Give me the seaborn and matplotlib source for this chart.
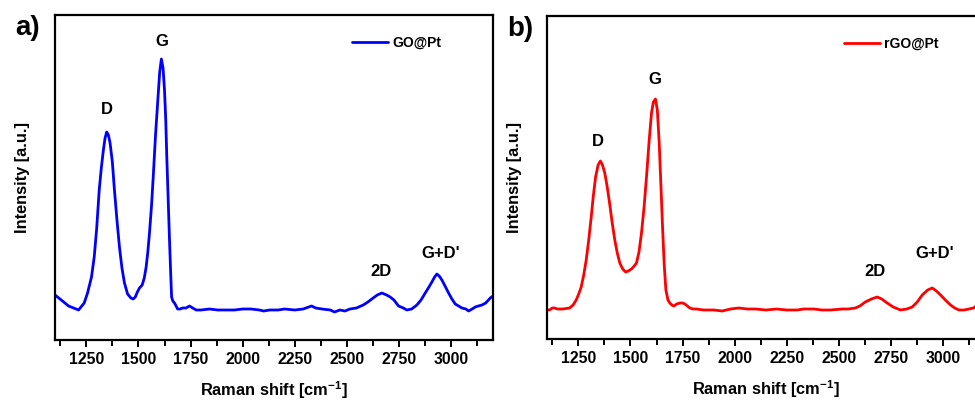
import numpy as np
import pandas as pd
import seaborn as sns
import matplotlib
import matplotlib.pyplot as plt
from matplotlib.ticker import MultipleLocator

matplotlib.use('Agg')

# Raman shift (cm^-1) and intensity (a.u.)
go_shift = [1100, 1130, 1165, 1213, 1240, 1256, 1275, 1288, 1300, 1312, 1322, 1332, 1340, 1348,
            1356, 1364, 1375, 1385, 1397, 1409, 1421, 1433, 1448, 1464, 1475, 1485, 1495, 1505,
            1518, 1528, 1537, 1545, 1553, 1563, 1572, 1582, 1593, 1602, 1610, 1618, 1625, 1631,
            1636, 1642, 1649, 1655, 1659, 1665, 1673, 1688, 1700, 1712, 1728, 1745, 1760, 1777,
            1800, 1841, 1880, 1920, 1960, 2000, 2040, 2080, 2100, 2130, 2170, 2200, 2250, 2290,
            2330, 2350, 2380, 2420, 2440, 2466, 2490, 2514, 2545, 2578, 2600, 2619, 2645, 2667,
            2690, 2707, 2725, 2747, 2770, 2787, 2810, 2835, 2855, 2875, 2890, 2907, 2920, 2931,
            2942, 2955, 2970, 2987, 3003, 3019, 3035, 3051, 3070, 3083, 3100, 3115, 3130, 3147,
            3165, 3187, 3200]
go_int = [45, 40, 34, 30, 37, 47, 63, 83, 112, 150, 172, 190, 202, 208,
          205, 197, 178, 150, 120, 93, 72, 57, 46, 42, 41, 43, 48, 52,
          55, 62, 73, 88, 107, 135, 167, 205, 240, 268, 281, 272, 250, 220,
          183, 145, 100, 65, 43, 39, 37, 31, 31, 32, 32, 34, 32, 30,
          30, 31, 30, 30, 30, 31, 31, 30, 29, 30, 30, 31, 30, 31,
          34, 32, 31, 30, 28, 30, 29, 31, 32, 35, 38, 41, 45, 47,
          45, 43, 40, 34, 32, 30, 31, 35, 40, 47, 52, 58, 63, 66,
          64, 60, 54, 47, 41, 36, 34, 32, 31, 29, 31, 33, 34, 35,
          37, 42, 44]

rgo_shift = [1100, 1112, 1125, 1136, 1150, 1175, 1208, 1225, 1240, 1252, 1264, 1276, 1288, 1300,
             1312, 1322, 1333, 1345, 1356, 1366, 1377, 1388, 1400, 1412, 1425, 1437, 1449, 1463,
             1477, 1490, 1505, 1518, 1529, 1541, 1553, 1565, 1577, 1590, 1601, 1610, 1620, 1629,
             1638, 1646, 1654, 1662, 1670, 1680, 1689, 1698, 1708, 1722, 1737, 1750, 1761, 1773,
             1785, 1800, 1817, 1850, 1900, 1940, 1980, 2020, 2060, 2100, 2150, 2200, 2250, 2300,
             2330, 2380, 2418, 2460, 2514, 2545, 2578, 2600, 2626, 2655, 2683, 2705, 2731, 2760,
             2795, 2825, 2851, 2875, 2899, 2925, 2947, 2967, 2987, 3010, 3035, 3055, 3075, 3100,
             3123, 3145, 3163, 3180, 3200]
rgo_int = [29, 29, 31, 31, 30, 30, 31, 34, 39, 45, 52, 64, 79, 99,
           122, 143, 162, 174, 178, 174, 166, 153, 136, 117, 99, 86, 76, 70,
           67, 68, 70, 73, 76, 87, 106, 131, 162, 199, 226, 237, 240, 229,
           196, 154, 112, 74, 49, 39, 36, 34, 33, 35, 36, 36, 35, 33,
           31, 30, 30, 29, 29, 28, 30, 31, 30, 30, 29, 30, 29, 29,
           30, 30, 29, 29, 30, 30, 31, 33, 37, 40, 42, 40, 36, 32,
           29, 30, 32, 37, 44, 49, 51, 48, 44, 39, 34, 31, 29, 29,
           30, 31, 34, 37, 39]

peak_names = ['D', 'G', '2D', "G+D'"]

sns.set_style('ticks')
plt.rcParams['font.family'] = ['Liberation Sans', 'DejaVu Sans']
plt.rcParams['font.weight'] = 'bold'
plt.rcParams['axes.labelweight'] = 'bold'
plt.rcParams['text.color'] = 'black'
plt.rcParams['axes.labelcolor'] = 'black'
plt.rcParams['xtick.color'] = 'black'
plt.rcParams['mathtext.fontset'] = 'custom'
plt.rcParams['mathtext.rm'] = 'Liberation Sans:bold'
plt.rcParams['mathtext.bf'] = 'Liberation Sans:bold'
plt.rcParams['mathtext.default'] = 'bf'

fig = plt.figure(figsize=(9.75, 4.01), dpi=100)
ax_a = fig.add_axes([55 / 975, 1 - 340 / 401, 438 / 975, 325 / 401])
ax_b = fig.add_axes([547 / 975, 1 - 339 / 401, 438 / 975, 323 / 401])

panels = [
    (ax_a, go_shift, go_int, 'GO@Pt', 'blue', 'a)',
     [(1348, 230), (1610, 298), (2663, 68), (2947, 86)], (0, 325)),
    (ax_b, rgo_shift, rgo_int, 'rGO@Pt', 'red', 'b)',
     [(1346, 198), (1615, 260), (2673, 67), (2961, 85)], (0, 323)),
]

for ax, xs, ys, name, color, tag, label_pos, ylim in panels:
    df = pd.DataFrame({'shift': xs, 'intensity': ys, 'sample': name})
    sns.lineplot(data=df, x='shift', y='intensity', hue='sample', palette=[color],
                 linewidth=2.0, ax=ax, sort=False)
    ax.set_xlim(1100, 3200)
    ax.set_ylim(*ylim)
    ax.set_yticks([])
    ax.xaxis.set_major_locator(MultipleLocator(250))
    ax.xaxis.set_minor_locator(MultipleLocator(125))
    ax.tick_params(axis='x', which='major', length=5, width=1.4, labelsize=11.3, pad=3.5)
    ax.tick_params(axis='x', which='minor', length=4, width=1.4)
    for lab in ax.get_xticklabels():
        lab.set_fontweight('bold')
    for sp in ax.spines.values():
        sp.set_linewidth(1.6)
        sp.set_color('black')
    ax.set_xlabel('Raman shift [cm$^{-1}$]', fontsize=11.8, labelpad=9)
    ax.set_ylabel('Intensity [a.u.]', fontsize=11.8, labelpad=18)
    for txt, (px, py) in zip(peak_names, label_pos):
        ax.text(px, py, txt, ha='center', va='center', fontsize=12, fontweight='bold')
    ax.legend(loc='upper left', bbox_to_anchor=(0.678, 0.935), frameon=False,
              handlelength=2.6, handletextpad=0.3, borderpad=0, borderaxespad=0,
              prop={'size': 10, 'weight': 'bold'})
    ax.text(-40 / 438, 1.0, tag, transform=ax.transAxes, ha='left', va='top',
            fontsize=20, fontweight='bold')

fig.savefig('out.png', dpi=100)
